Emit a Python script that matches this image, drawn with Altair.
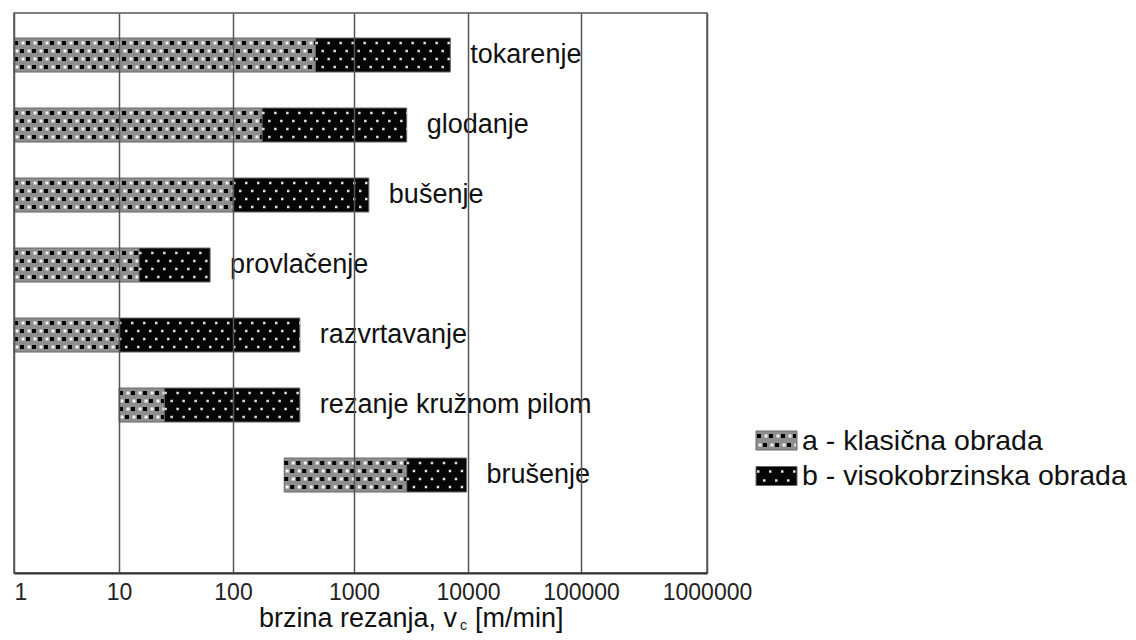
import altair as alt
import pandas as pd

# ---------------- data ----------------
categories = ["tokarenje", "glodanje", "bušenje", "provlačenje",
              "razvrtavanje", "rezanje kružnom pilom", "brušenje"]
a_start = [1, 1, 1, 1, 1, 10, 265]
a_end = [480, 174, 100, 15, 10, 25, 2900]
b_end = [7000, 2900, 1350, 63, 357, 357, 9700]

tick_values = [1, 10, 100, 1000, 10000, 100000, 1000000]
legend_labels = ["a -  klasična obrada", "b - visokobrzinska obrada"]
axis_title_parts = ["brzina rezanja, v", "c", "[m/min]"]

# ---------------- tables ----------------
rows = []
for c, s0, s1, s2 in zip(categories, a_start, a_end, b_end):
    rows.append({"cat": c, "series": "a", "start": s0, "end": s1})
    rows.append({"cat": c, "series": "b", "start": s1, "end": s2})
bars = pd.DataFrame(rows)
labels = pd.DataFrame({"cat": categories, "end": b_end})
one = pd.DataFrame({"k": [0]})

FONT = "Liberation Sans"
W, H = 693, 560

# hand-drawn decades are not evenly spaced in the original
x_scale = alt.Scale(type="log", domain=tick_values,
                    range=[0, 105, 219, 340, 454, 567, 693], nice=False)
y_scale = alt.Scale(domain=categories, paddingInner=0.514,
                    paddingOuter=0.757, align=0.236)

x_axis = alt.Axis(values=tick_values, format="d", labelFontSize=23,
                  labelFont=FONT, labelColor="#222", labelPadding=8,
                  labelAlign={"condition": {"test": "datum.value == 1", "value": "left"},
                              "value": "center"},
                  tickSize=0, grid=True, gridColor="#555", gridWidth=1.5,
                  domainColor="#333", domainWidth=2, labelFlush=False,
                  zindex=1, title=None)

def xenc(field, axis=False):
    if axis:
        return alt.X(field + ":Q", scale=x_scale, axis=x_axis, title=None)
    return alt.X(field + ":Q", scale=x_scale, title=None)

yenc = alt.Y("cat:N", scale=y_scale, axis=None)

# pattern definitions: base fill + rows of dashed rules giving dots
PATTERNS = {
    "a": {"fill": "#8e8e8e",
          "dots": [("#000000", 4, [4, 8], 0, 6), ("#f4f4f4", 3, [3, 9], 4.5, 10.5)]},
    "b": {"fill": "#050505",
          "dots": [("#e0e0e0", 2.5, [2.5, 9.5], 0, 6)]},
}
BAR_ROWS = [-12, -4, 4, 12]
LEG_ROWS = [-4.5, 4.5]

layers = []
for s in ["a", "b"]:
    p = PATTERNS[s]
    base = alt.Chart(bars).transform_filter(alt.datum.series == s)
    layers.append(base.mark_bar(fill=p["fill"], stroke="#6a6a6a",
                                strokeWidth=1, cornerRadius=0).encode(
        x=xenc("start", axis=(s == "a")), x2="end:Q", y=yenc))
    for color, sw, dash, off0, off1 in p["dots"]:
        for i, yo in enumerate(BAR_ROWS):
            layers.append(base.mark_rule(color=color, strokeWidth=sw,
                                         strokeDash=dash,
                                         strokeDashOffset=off0 if i % 2 == 0 else off1,
                                         yOffset=yo).encode(
                x=xenc("start"), x2="end:Q", y=yenc))

# category labels
layers.append(alt.Chart(labels).mark_text(
    align="left", baseline="middle", dx=20, fontSize=27, font=FONT,
    color="#111").encode(x=xenc("end"), y=yenc, text="cat:N"))

# axis title with subscript
layers.append(alt.Chart(one).mark_text(
    align="right", baseline="middle", fontSize=27, font=FONT, color="#111"
).encode(x=alt.value(443), y=alt.value(606), text=alt.value(axis_title_parts[0])))
layers.append(alt.Chart(one).mark_text(
    align="left", baseline="middle", fontSize=14, font=FONT, color="#111"
).encode(x=alt.value(446), y=alt.value(613), text=alt.value(axis_title_parts[1])))
layers.append(alt.Chart(one).mark_text(
    align="left", baseline="middle", fontSize=27, font=FONT, color="#111"
).encode(x=alt.value(461), y=alt.value(606), text=alt.value(axis_title_parts[2])))

# legend
leg_y = {"a": 427.5, "b": 463}
for s, lab in zip(["a", "b"], legend_labels):
    p = PATTERNS[s]
    yc = leg_y[s]
    layers.append(alt.Chart(one).mark_rect(fill=p["fill"], stroke="#6a6a6a",
                                           strokeWidth=1).encode(
        x=alt.value(742), x2=alt.value(783),
        y=alt.value(yc - 9.5), y2=alt.value(yc + 9.5)))
    for color, sw, dash, off0, off1 in p["dots"]:
        for i, yo in enumerate(LEG_ROWS):
            layers.append(alt.Chart(one).mark_rule(
                color=color, strokeWidth=sw, strokeDash=dash,
                strokeDashOffset=off0 if i % 2 == 0 else off1).encode(
                x=alt.value(743), x2=alt.value(782), y=alt.value(yc + yo)))
    layers.append(alt.Chart(one).mark_text(
        align="left", baseline="middle", fontSize=28.5, font=FONT,
        color="#111").encode(x=alt.value(788), y=alt.value(yc),
                             text=alt.value(lab)))

chart = alt.layer(*layers).properties(
    width=W, height=H,
    padding={"left": 4, "top": 5, "right": 0, "bottom": 0},
).configure_view(stroke="#555", strokeWidth=1.5)

chart.save("out.html", embed_options={"renderer": "svg", "actions": False})
